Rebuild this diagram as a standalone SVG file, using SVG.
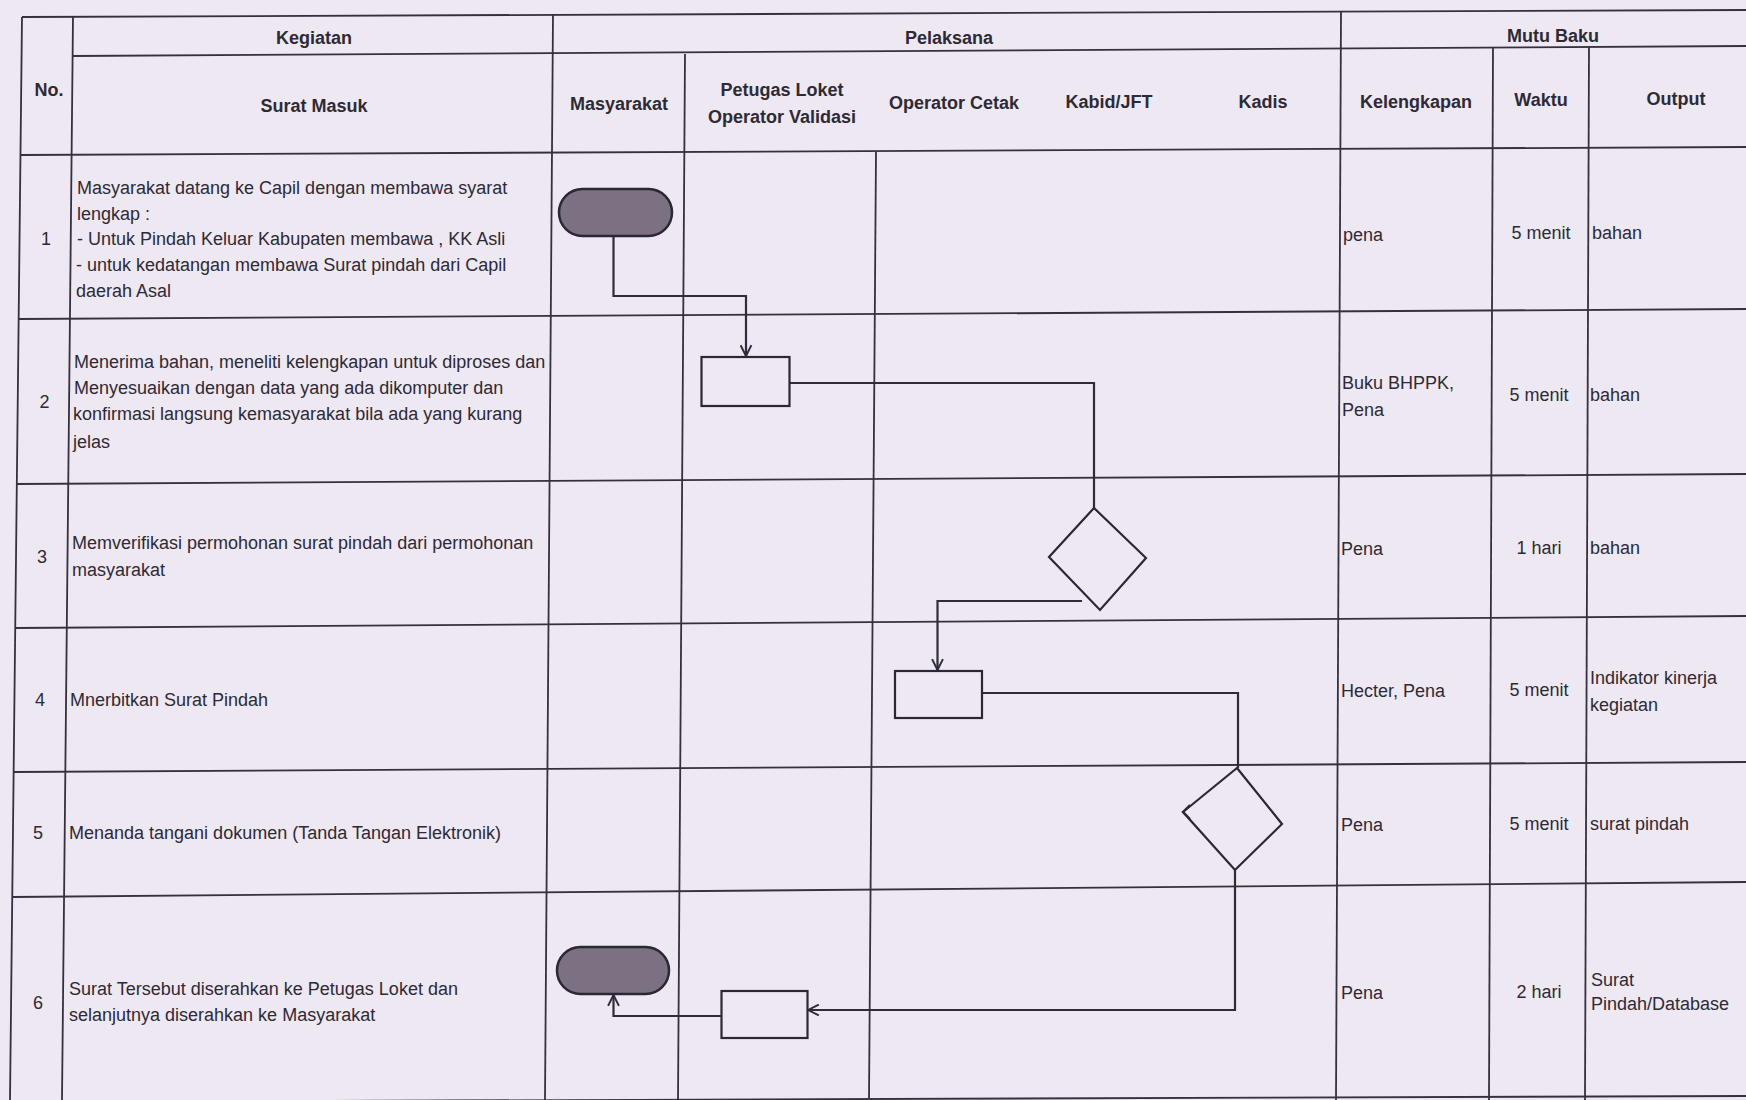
<svg xmlns="http://www.w3.org/2000/svg" width="1746" height="1100" viewBox="0 0 1746 1100">
<defs>
<style>
.grid{stroke:#34303f;stroke-width:1.8;fill:none}
.hd{font-family:"Liberation Sans",Arial,sans-serif;font-size:18px;font-weight:bold;fill:#2d2a36}
.tx{font-family:"Liberation Sans",Arial,sans-serif;font-size:18px;fill:#2d2a36}
.c{text-anchor:middle}
.term{fill:#7b7183;stroke:#2b2735;stroke-width:2.5}
.box{fill:none;stroke:#2b2735;stroke-width:2.2}
.conn{fill:none;stroke:#2f2b3a;stroke-width:2.2}
</style>
<marker id="arr" viewBox="0 0 12 12" refX="11" refY="6" markerWidth="13" markerHeight="13" markerUnits="userSpaceOnUse" orient="auto">
<path d="M1,1 L11,6 L1,11" fill="none" stroke="#2f2b3a" stroke-width="1.8"/>
</marker>
</defs>
<rect x="0" y="0" width="1746" height="1100" fill="#eee8f2"/>

<g id="table">
<!-- horizontal lines -->
<line class="grid" x1="22" y1="17" x2="1746" y2="10"/>
<line class="grid" x1="73" y1="56" x2="1746" y2="46"/>
<line class="grid" x1="21" y1="155" x2="1746" y2="147"/>
<line class="grid" x1="19" y1="319" x2="1746" y2="309"/>
<line class="grid" x1="17" y1="484" x2="1746" y2="474"/>
<line class="grid" x1="16" y1="628" x2="1746" y2="616"/>
<line class="grid" x1="14" y1="772" x2="1746" y2="762"/>
<line class="grid" x1="13" y1="897" x2="1746" y2="882"/>
<line class="grid" x1="10" y1="1102" x2="1746" y2="1096"/>
<!-- vertical lines -->
<line class="grid" x1="22" y1="17" x2="10" y2="1100"/>
<line class="grid" x1="73" y1="17" x2="62" y2="1100"/>
<line class="grid" x1="553" y1="14" x2="545" y2="1100"/>
<line class="grid" x1="685" y1="54" x2="678" y2="1100"/>
<line class="grid" x1="876" y1="152" x2="869" y2="1100"/>
<line class="grid" x1="1341" y1="12" x2="1336" y2="1100"/>
<line class="grid" x1="1493" y1="48" x2="1489" y2="1100"/>
<line class="grid" x1="1589" y1="47" x2="1585" y2="1100"/>
</g>

<g id="header">
<text class="hd c" x="314" y="43.5">Kegiatan</text>
<text class="hd c" x="949" y="44">Pelaksana</text>
<text class="hd c" x="1553" y="41.5">Mutu Baku</text>
<text class="hd c" x="49" y="96">No.</text>
<text class="hd c" x="314" y="112">Surat Masuk</text>
<text class="hd c" x="619" y="110">Masyarakat</text>
<text class="hd c" x="782" y="95.5">Petugas Loket</text>
<text class="hd c" x="782" y="122.5">Operator Validasi</text>
<text class="hd c" x="954" y="108.5">Operator Cetak</text>
<text class="hd c" x="1109" y="107.5">Kabid/JFT</text>
<text class="hd c" x="1263" y="107.5">Kadis</text>
<text class="hd c" x="1416" y="107.5">Kelengkapan</text>
<text class="hd c" x="1541" y="105.5">Waktu</text>
<text class="hd c" x="1676" y="104.5">Output</text>
</g>

<g id="rows-text">
<text class="tx c" x="46" y="244.5">1</text>
<text class="tx" x="77" y="193.5">Masyarakat datang ke Capil dengan membawa syarat</text>
<text class="tx" x="77" y="220">lengkap :</text>
<text class="tx" x="77" y="245">- Untuk Pindah Keluar Kabupaten membawa , KK Asli</text>
<text class="tx" x="76" y="270.5">- untuk kedatangan membawa Surat pindah dari Capil</text>
<text class="tx" x="76" y="297">daerah Asal</text>

<text class="tx c" x="44.5" y="407.5">2</text>
<text class="tx" x="74" y="367.5">Menerima bahan, meneliti kelengkapan untuk diproses dan</text>
<text class="tx" x="74" y="394">Menyesuaikan dengan data yang ada dikomputer dan</text>
<text class="tx" x="73" y="419.5">konfirmasi langsung kemasyarakat bila ada yang kurang</text>
<text class="tx" x="73" y="447.5">jelas</text>

<text class="tx c" x="42" y="562.5">3</text>
<text class="tx" x="72" y="548.5">Memverifikasi permohonan surat pindah dari permohonan</text>
<text class="tx" x="72" y="575.5">masyarakat</text>

<text class="tx c" x="40" y="705.5">4</text>
<text class="tx" x="70" y="705.5">Mnerbitkan Surat Pindah</text>

<text class="tx c" x="38" y="838.5">5</text>
<text class="tx" x="69" y="838.5">Menanda tangani dokumen (Tanda Tangan Elektronik)</text>

<text class="tx c" x="38" y="1008.5">6</text>
<text class="tx" x="69" y="994.5">Surat Tersebut diserahkan ke Petugas Loket dan</text>
<text class="tx" x="69" y="1020.5">selanjutnya diserahkan ke Masyarakat</text>
</g>

<g id="mutu-baku">
<text class="tx" x="1343" y="240.5">pena</text>
<text class="tx c" x="1541" y="238.5">5 menit</text>
<text class="tx" x="1592" y="238.5">bahan</text>

<text class="tx" x="1342" y="388.5">Buku BHPPK,</text>
<text class="tx" x="1342" y="415.5">Pena</text>
<text class="tx c" x="1539" y="400.5">5 menit</text>
<text class="tx" x="1590" y="400.5">bahan</text>

<text class="tx" x="1341" y="554.5">Pena</text>
<text class="tx c" x="1539" y="553.5">1 hari</text>
<text class="tx" x="1590" y="553.5">bahan</text>

<text class="tx" x="1341" y="696.5">Hecter, Pena</text>
<text class="tx c" x="1539" y="695.5">5 menit</text>
<text class="tx" x="1590" y="683.5">Indikator kinerja</text>
<text class="tx" x="1590" y="710.5">kegiatan</text>

<text class="tx" x="1341" y="830.5">Pena</text>
<text class="tx c" x="1539" y="829.5">5 menit</text>
<text class="tx" x="1590" y="829.5">surat pindah</text>

<text class="tx" x="1341" y="998.5">Pena</text>
<text class="tx c" x="1539" y="997.5">2 hari</text>
<text class="tx" x="1591" y="985.5">Surat</text>
<text class="tx" x="1591" y="1009.5">Pindah/Database</text>
</g>

<g id="connectors">
<polyline class="conn" points="613.5,236 613.5,296 746,296 746,356" marker-end="url(#arr)"/>
<polyline class="conn" points="789.5,383 1094,383 1094,508"/>
<polyline class="conn" points="1082,601 937.5,601 937.5,670" marker-end="url(#arr)"/>
<polyline class="conn" points="982,693 1238,693 1238,768"/>
<polyline class="conn" points="1190,805 1183,812 1190,819"/>
<polyline class="conn" points="1235,870 1235,1010 808,1010" marker-end="url(#arr)"/>
<polyline class="conn" points="721.5,1016 613.5,1016 613.5,995" marker-end="url(#arr)"/>
</g>

<g id="start">
<rect class="term" x="559" y="189" width="113" height="47" rx="23.5"/>
</g>
<g id="task-terima">
<rect class="box" x="701.5" y="357" width="88" height="49"/>
</g>
<g id="decision-verifikasi">
<polygon class="box" points="1094,508 1146,558 1100,610 1049,557"/>
</g>
<g id="task-cetak">
<rect class="box" x="895" y="671" width="87" height="47"/>
</g>
<g id="decision-tandatangan">
<polygon class="box" points="1237,768 1282,824 1235,870 1183,812"/>
</g>
<g id="task-serah">
<rect class="box" x="721.5" y="991" width="86" height="47"/>
</g>
<g id="end">
<rect class="term" x="557" y="947" width="112" height="47" rx="23.5"/>
</g>
</svg>
